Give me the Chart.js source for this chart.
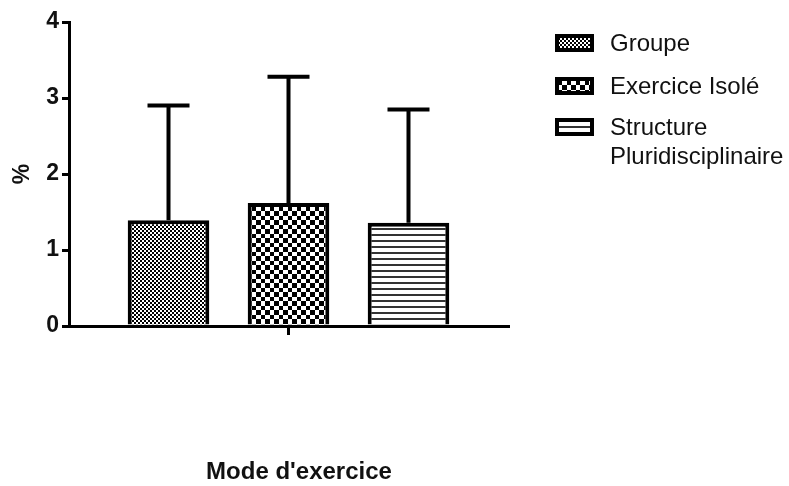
<!DOCTYPE html>
<html>
<head>
<meta charset="utf-8">
<script src="https://cdn.jsdelivr.net/npm/chart.js@4.4.1/dist/chart.umd.min.js"></script>
<style>
  html, body { margin: 0; padding: 0; background: #ffffff; }
  #wrap { position: relative; width: 789px; height: 486px; }
</style>
</head>
<body>
<div id="wrap"><canvas id="c" width="789" height="486"></canvas></div>
<script>
// ---- data ----
const categories = [''];
const seriesNames = ['Groupe', 'Exercice Isolé', 'Structure Pluridisciplinaire'];
const legendLines = [['Groupe'], ['Exercice Isolé'], ['Structure', 'Pluridisciplinaire']];
const meanValues = [1.39, 1.62, 1.36];
const sdValues = [1.51, 1.66, 1.49];
const yTicks = [0, 1, 2, 3, 4];
const xTitle = "Mode d'exercice";
const yTitle = '%';
const patternKinds = ['fine', 'checker', 'lines'];

// ---- patterns ----
function makePattern(kind) {
  const c = document.createElement('canvas');
  const g = c.getContext('2d');
  if (kind === 'fine') {
    c.width = 4; c.height = 4;
    g.fillStyle = '#fff'; g.fillRect(0, 0, 4, 4);
    g.fillStyle = '#000'; g.fillRect(0, 0, 2, 2); g.fillRect(2, 2, 2, 2);
  } else if (kind === 'checker') {
    c.width = 9; c.height = 9;
    g.fillStyle = '#fff'; g.fillRect(0, 0, 9, 9);
    g.fillStyle = '#000'; g.fillRect(0, 0, 4, 4); g.fillRect(4, 4, 5, 5);
  } else {
    c.width = 6; c.height = 6;
    g.fillStyle = '#fff'; g.fillRect(0, 0, 6, 6);
    g.fillStyle = '#333'; g.fillRect(0, 0, 6, 2);
  }
  return g.createPattern(c, 'repeat');
}
const ctx = document.getElementById('c').getContext('2d');
const patterns = patternKinds.map(makePattern);

const FONT = "'Liberation Sans', Arial, Helvetica, sans-serif";

const errorBars = {
  id: 'errorBars',
  afterDatasetsDraw(chart) {
    const g = chart.ctx;
    const ys = chart.scales.y;
    g.save();
    g.strokeStyle = '#000';
    g.lineWidth = 4;
    g.lineCap = 'butt';
    chart.data.datasets.forEach((ds, i) => {
      const meta = chart.getDatasetMeta(i);
      meta.data.forEach((bar, j) => {
        const v = ds.data[j];
        const top = ys.getPixelForValue(v + sdValues[i]);
        const base = ys.getPixelForValue(v);
        g.beginPath();
        g.moveTo(bar.x, base);
        g.lineTo(bar.x, top);
        g.moveTo(bar.x - 21, top);
        g.lineTo(bar.x + 21, top);
        g.stroke();
      });
    });
    g.restore();
  }
};

const customLegend = {
  id: 'customLegend',
  afterDraw(chart) {
    const g = chart.ctx;
    const boxX = 557, boxW = 35, boxH = 14, textX = 610, lineH = 29;
    const centers = [43, 86, 127];
    g.save();
    g.font = '24px ' + FONT;
    g.textBaseline = 'middle';
    legendLines.forEach((lines, i) => {
      const cy = centers[i];
      g.fillStyle = patterns[i];
      g.fillRect(boxX, cy - boxH / 2, boxW, boxH);
      g.strokeStyle = '#000';
      g.lineWidth = 4;
      g.strokeRect(boxX, cy - boxH / 2, boxW, boxH);
      g.fillStyle = '#111';
      lines.forEach((t, k) => g.fillText(t, textX, cy + 1 + k * lineH));
    });
    // x axis title
    g.font = 'bold 24px ' + FONT;
    g.textAlign = 'center';
    g.textBaseline = 'middle';
    g.fillStyle = '#111';
    g.fillText(xTitle, 299, 472);
    g.restore();
  }
};

new Chart(ctx, {
  type: 'bar',
  data: {
    labels: categories,
    datasets: seriesNames.map((name, i) => ({
      label: name,
      data: [meanValues[i]],
      backgroundColor: patterns[i],
      borderColor: '#000',
      borderWidth: 4,
      borderSkipped: 'start',
      categoryPercentage: 0.82,
      barPercentage: 0.68
    }))
  },
  options: {
    responsive: false,
    animation: false,
    layout: { padding: { top: 22, right: 281, left: 0, bottom: 0 } },
    plugins: {
      legend: { display: false },
      tooltip: { enabled: false }
    },
    scales: {
      x: {
        grid: { display: true, drawOnChartArea: false, drawTicks: true, tickLength: 9, color: '#000', lineWidth: 3, offset: false },
        border: { display: true, color: '#000', width: 3 },
        ticks: { display: true, callback: () => '' },
        title: { display: false, text: xTitle },
        afterFit(scale) { scale.height = 486 - 326; }
      },
      y: {
        min: 0, max: 4,
        afterBuildTicks(scale) { scale.ticks = yTicks.map(v => ({ value: v })); },
        grid: { display: true, drawOnChartArea: false, drawTicks: true, tickLength: 7, color: '#000', lineWidth: 3 },
        border: { display: true, color: '#000', width: 3 },
        ticks: { color: '#111', font: { family: FONT, size: 23, weight: 'bold' }, padding: 3 },
        title: { display: true, text: yTitle, color: '#111', font: { family: FONT, size: 23, weight: 'bold' }, padding: { top: 9, bottom: 0 } },
        afterFit(scale) { scale.width = 69; }
      }
    }
  },
  plugins: [errorBars, customLegend]
});
</script>
</body>
</html>
